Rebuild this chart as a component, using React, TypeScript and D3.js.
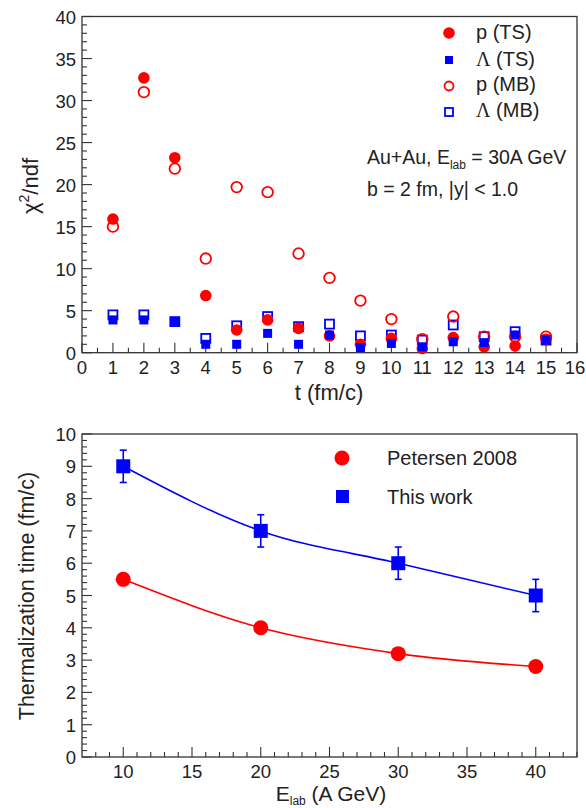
import React from 'react';
import * as d3 from 'd3';

// top panel: chi2/ndf vs t
const tVals = [1, 2, 3, 4, 5, 6, 7, 8, 9, 10, 11, 12, 13, 14, 15];
const pTS = [15.9, 32.7, 23.2, 6.8, 2.7, 3.9, 2.9, 2.0, 1.0, 1.7, 0.5, 1.8, 0.7, 0.8, 1.6];
const lamTS = [3.9, 3.9, 3.6, 1.0, 1.0, 2.3, 1.0, 2.1, 0.6, 1.1, 0.7, 1.3, 1.2, 2.1, 1.5];
const pMB = [15.0, 31.0, 21.9, 11.2, 19.7, 19.1, 11.8, 8.9, 6.2, 4.0, 1.6, 4.3, 1.9, 1.9, 1.9];
const lamMB = [4.5, 4.5, 3.7, 1.7, 3.2, 4.3, 3.1, 3.4, 2.0, 2.1, 1.5, 3.3, 1.9, 2.5, 1.5];

// bottom panel: thermalization time vs E_lab
const eLab = [10, 20, 30, 40];
const petersen = [5.5, 4.0, 3.2, 2.8];
const thisWork = [9, 7, 6, 5];
const thisWorkErr = [0.5, 0.5, 0.5, 0.5];

const RED = '#ff0000';
const BLUE = '#0000ff';
const INK = '#222';
const FONT = '"Liberation Sans", Arial, Helvetica, sans-serif';
const SERIF = '"Liberation Serif", "Times New Roman", serif';

const L = 82, R = 577;

const xTop = d3.scaleLinear().domain([0, 16]).range([L, R]);
const yTop = d3.scaleLinear().domain([0, 40]).range([352.7, 16.5]);
const xBot = d3.scaleLinear().domain([7, 43]).range([L, R]);
const yBot = d3.scaleLinear().domain([0, 10]).range([757, 434]);

const Frame = ({ x, y, xMajor, xMinor, yMajor, yMinor }: any) => {
  const [x0, x1] = x.range();
  const [y0, y1] = y.range();
  return (
    <g>
      <rect x={x0} y={y1} width={x1 - x0} height={y0 - y1} fill="none" stroke="#333" strokeWidth={1.3} />
      {xMinor.map((v: number) => (
        <line key={'xm' + v} x1={x(v)} x2={x(v)} y1={y0} y2={y0 - 5} stroke="#333" strokeWidth={1.1} />
      ))}
      {xMajor.map((v: number) => {
        // keep the last label inside the page
        const tx = Math.min(x(v), 586 - 11);
        return (
          <g key={'xM' + v}>
            <line x1={x(v)} x2={x(v)} y1={y0} y2={y0 - 10} stroke="#333" strokeWidth={1.1} />
            <text x={tx} y={y0 + 21} textAnchor="middle" fontSize={18.5} fill={INK}>{v}</text>
          </g>
        );
      })}
      {yMinor.map((v: number) => (
        <line key={'ym' + v} x1={x0} x2={x0 + 5} y1={y(v)} y2={y(v)} stroke="#333" strokeWidth={1.1} />
      ))}
      {yMajor.map((v: number) => (
        <g key={'yM' + v}>
          <line x1={x0} x2={x0 + 10} y1={y(v)} y2={y(v)} stroke="#333" strokeWidth={1.1} />
          <text x={x0 - 6} y={y(v) + 7} textAnchor="end" fontSize={18.5} fill={INK}>{v}</text>
        </g>
      ))}
    </g>
  );
};

const App = () => {
  const line = (xs: any, ys: any) =>
    d3.line<number>().x((_, i) => xs(eLab[i])).y(d => ys(d)).curve(d3.curveMonotoneX);
  const sq = 9;
  const sqB = 14;
  return (
    <svg width={586} height={808} style={{ position: 'absolute', left: 0, top: 0, background: '#fff' }} fontFamily={FONT}>
      {/* ---------- top panel ---------- */}
      <Frame
        x={xTop} y={yTop}
        xMajor={d3.range(0, 17)} xMinor={d3.range(0.5, 16, 1)}
        yMajor={d3.range(0, 41, 5)} yMinor={d3.range(0, 41, 1).filter(v => v % 5 !== 0)}
      />
      {tVals.map((t, i) => (
        <rect key={'lmb' + t} x={xTop(t) - sq / 2} y={yTop(lamMB[i]) - sq / 2} width={sq} height={sq}
          fill="none" stroke={BLUE} strokeWidth={1.8} />
      ))}
      {tVals.map((t, i) => (
        <circle key={'pmb' + t} cx={xTop(t)} cy={yTop(pMB[i])} r={5.3} fill="none" stroke={RED} strokeWidth={1.8} />
      ))}
      {tVals.map((t, i) => (
        <circle key={'pts' + t} cx={xTop(t)} cy={yTop(pTS[i])} r={5.8} fill={RED} />
      ))}
      {tVals.map((t, i) => (
        <rect key={'lts' + t} x={xTop(t) - sq / 2} y={yTop(lamTS[i]) - sq / 2} width={sq} height={sq} fill={BLUE} />
      ))}

      {/* legend */}
      <g fontSize={20} fill={INK}>
        <circle cx={449} cy={33} r={5.8} fill={RED} />
        <text x={476} y={39}>p (TS)</text>
        <rect x={445} y={56} width={8} height={8} fill={BLUE} />
        <text x={476} y={66}><tspan fontFamily={SERIF}>Λ</tspan> (TS)</text>
        <circle cx={449} cy={86} r={4.5} fill="none" stroke={RED} strokeWidth={1.8} />
        <text x={476} y={91}>p (MB)</text>
        <rect x={445} y={108} width={8} height={8} fill="none" stroke={BLUE} strokeWidth={1.8} />
        <text x={476} y={117}><tspan fontFamily={SERIF}>Λ</tspan> (MB)</text>
      </g>
      <g fontSize={19.5} fill={INK}>
        <text x={367} y={164}>Au+Au, E<tspan fontSize={12} dy={5}>lab</tspan><tspan dy={-5}> = 30A GeV</tspan></text>
        <text x={367} y={196}>b = 2 fm, |y| &lt; 1.0</text>
      </g>

      {/* axis titles */}
      <text transform="translate(38,186) rotate(-90)" textAnchor="middle" fontSize={22} fill={INK}>
        χ<tspan fontSize={14} dy={-9}>2</tspan><tspan dy={9}>/ndf</tspan>
      </text>
      <text x={329} y={400} textAnchor="middle" fontSize={22} fill={INK}>t (fm/c)</text>

      {/* ---------- bottom panel ---------- */}
      <Frame
        x={xBot} y={yBot}
        xMajor={d3.range(10, 41, 5)} xMinor={d3.range(8, 44, 1).filter(v => v % 5 !== 0)}
        yMajor={d3.range(0, 11, 1)} yMinor={d3.range(0, 10.01, 0.2).filter(v => Math.abs(v - Math.round(v)) > 0.01)}
      />
      <path d={line(xBot, yBot)(petersen) || ''} fill="none" stroke={RED} strokeWidth={1.6} />
      <path d={line(xBot, yBot)(thisWork) || ''} fill="none" stroke={BLUE} strokeWidth={1.6} />
      {eLab.map((e, i) => (
        <g key={'err' + e} stroke={BLUE} strokeWidth={1.6}>
          <line x1={xBot(e)} x2={xBot(e)} y1={yBot(thisWork[i] - thisWorkErr[i])} y2={yBot(thisWork[i] + thisWorkErr[i])} />
          <line x1={xBot(e) - 3.5} x2={xBot(e) + 3.5} y1={yBot(thisWork[i] + thisWorkErr[i])} y2={yBot(thisWork[i] + thisWorkErr[i])} />
          <line x1={xBot(e) - 3.5} x2={xBot(e) + 3.5} y1={yBot(thisWork[i] - thisWorkErr[i])} y2={yBot(thisWork[i] - thisWorkErr[i])} />
        </g>
      ))}
      {eLab.map((e, i) => (
        <circle key={'pet' + e} cx={xBot(e)} cy={yBot(petersen[i])} r={7.5} fill={RED} />
      ))}
      {eLab.map((e, i) => (
        <rect key={'tw' + e} x={xBot(e) - sqB / 2} y={yBot(thisWork[i]) - sqB / 2} width={sqB} height={sqB} fill={BLUE} />
      ))}

      {/* legend */}
      <g fontSize={20} fill={INK}>
        <circle cx={342} cy={458} r={7.5} fill={RED} />
        <text x={387} y={465}>Petersen 2008</text>
        <rect x={336} y={490} width={13} height={13} fill={BLUE} />
        <text x={387} y={504}>This work</text>
      </g>

      <text transform="translate(34,596) rotate(-90)" textAnchor="middle" fontSize={21.5} fill={INK}>
        Thermalization time (fm/c)
      </text>
      <text x={331} y={801} textAnchor="middle" fontSize={21} fill={INK}>
        E<tspan fontSize={12} dy={3.5}>lab</tspan><tspan dy={-3.5}> (A GeV)</tspan>
      </text>
    </svg>
  );
};

export default App;
